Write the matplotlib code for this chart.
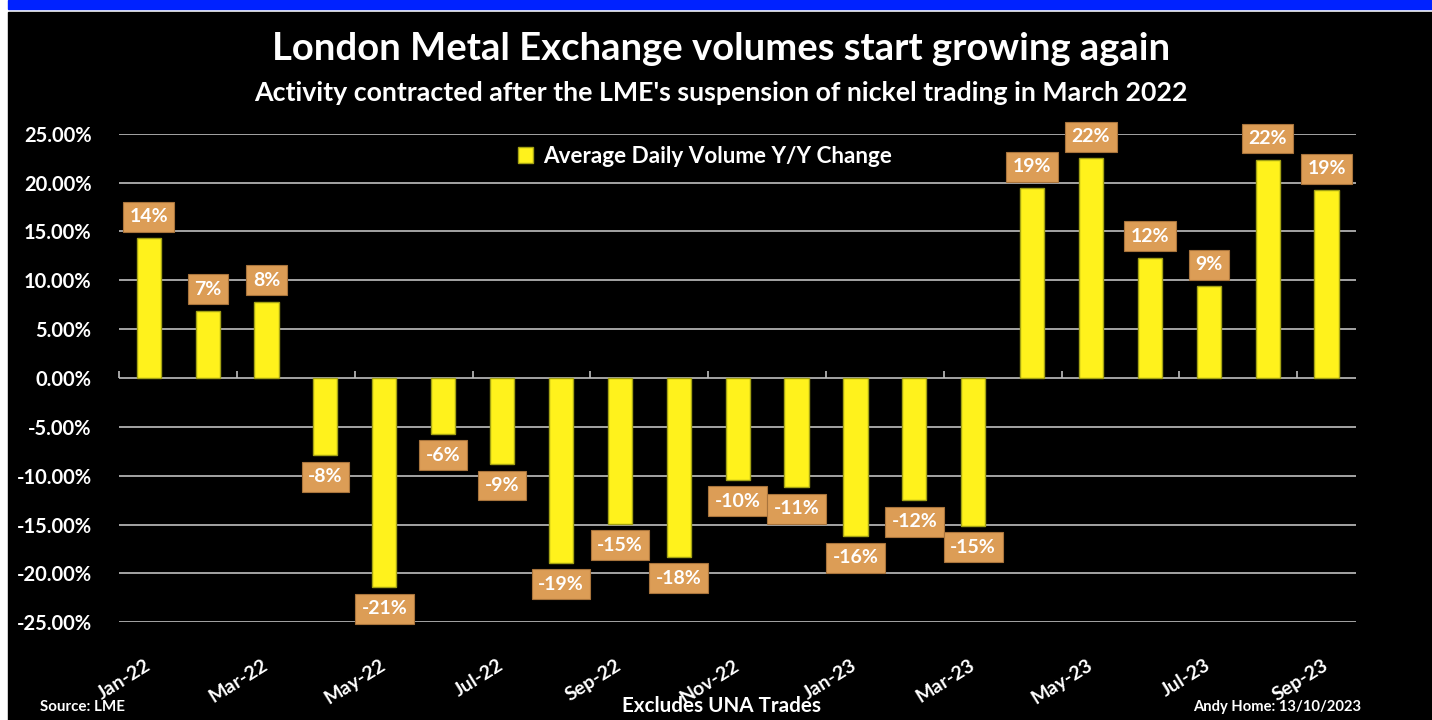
import matplotlib
matplotlib.use("Agg")
import matplotlib.pyplot as plt
from matplotlib.patches import Rectangle

# data (percent, Y/Y change in average daily volume)
months = ["Jan-22", "Feb-22", "Mar-22", "Apr-22", "May-22", "Jun-22", "Jul-22",
          "Aug-22", "Sep-22", "Oct-22", "Nov-22", "Dec-22", "Jan-23", "Feb-23",
          "Mar-23", "Apr-23", "May-23", "Jun-23", "Jul-23", "Aug-23", "Sep-23"]
adv_change = [14.3, 6.9, 7.8, -7.9, -21.4, -5.7, -8.8,
              -18.9, -14.9, -18.3, -10.4, -11.2, -16.2, -12.5,
              -15.1, 19.4, 22.5, 12.3, 9.4, 22.3, 19.2]
yticks = [25, 20, 15, 10, 5, 0, -5, -10, -15, -20, -25]

FONT = ["Lato", "DejaVu Sans"]
plt.rcParams["font.family"] = FONT
plt.rcParams["font.weight"] = "bold"

BAR = "#FFF21C"
BAR_EDGE = "#A3A114"
LABEL_BG = "#DC9D56"
LABEL_EDGE = "#A8743C"
GRID = "#BFBFBF"

fig = plt.figure(figsize=(14.32, 7.2), dpi=100)
fig.patch.set_facecolor("white")
W, H = 1432, 720
# black card, blue band on top
fig.patches.append(Rectangle((8 / W, 0), 1 - 8 / W, 1 - 11.5 / H,
                             transform=fig.transFigure, color="black", zorder=-10))
fig.patches.append(Rectangle((8 / W, 1 - 8.5 / H), 1 - 8 / W, 8.5 / H,
                             transform=fig.transFigure, color="#0022FF", zorder=-10))

ax = fig.add_axes([119.3 / W, (H - 622.3) / H, (1356 - 119.3) / W, (622.3 - 133.7) / H])
ax.set_zorder(2)
ax.patch.set_alpha(0)

x = list(range(len(months)))
bars = ax.bar(x, adv_change, width=0.41, color=BAR, edgecolor=BAR_EDGE,
              linewidth=1.0, zorder=3, label="Average Daily Volume Y/Y Change")

ax.set_xlim(-0.5, len(months) - 0.5)
ax.set_ylim(-25, 25)
ax.set_yticks(yticks)
ax.set_yticklabels([f"{v:.2f}%" for v in yticks])
ax.yaxis.grid(True, color=GRID, linewidth=1.2, zorder=0)
ax.set_axisbelow(True)
for s in ax.spines.values():
    s.set_visible(False)
ax.tick_params(axis="y", length=0, pad=20, labelsize=14.5, labelcolor="white")

# month labels every other category at the bottom
ax.set_xticks(x[::2])
ax.set_xticklabels(months[::2], rotation=32, ha="right", va="center",
                   rotation_mode="anchor")
ax.tick_params(axis="x", length=0, pad=30, labelsize=14, labelcolor="white")

# zero line with tick marks between every two categories
sec = ax.secondary_xaxis(0.5)
sec.spines["bottom"].set_color(GRID)
sec.spines["bottom"].set_linewidth(1.2)
sec.set_xticks([i - 0.5 for i in range(0, len(months) + 1, 2)])
sec.set_xticklabels([])
sec.tick_params(axis="x", length=5, width=1.2, color=GRID, direction="out")

# data labels
for xi, v in zip(x, adv_change):
    off = 15.5 if v >= 0 else -15.5
    ax.annotate(f"{v:.0f}%", (xi, v), xytext=(0, off), textcoords="offset points",
                ha="center", va="center", color="white", fontsize=14,
                fontweight="bold", zorder=5,
                bbox=dict(boxstyle="square,pad=0.33", facecolor=LABEL_BG,
                          edgecolor=LABEL_EDGE, linewidth=0.8))

leg = ax.legend(loc="center", bbox_to_anchor=(0.4736, 0.954), frameon=False,
                fontsize=16.2, handlelength=0.7, handleheight=0.7,
                handletextpad=0.45, borderpad=0.2)
for t in leg.get_texts():
    t.set_color("white")

fig.text(0.5035, 1 - 49 / H, "London Metal Exchange volumes start growing again",
         ha="center", va="center", color="white", fontsize=27.5, fontweight="bold")
fig.text(0.5035, 1 - 93 / H,
         "Activity contracted after the LME's suspension of nickel trading in March 2022",
         ha="center", va="center", color="white", fontsize=19.3, fontweight="bold")

fig.text(40 / W, 1 - 707 / H, "Source: LME", ha="left", va="center",
         color="white", fontsize=10.9, fontweight="bold")
fig.text(722 / W, 1 - 706 / H, "Excludes UNA Trades", ha="center", va="center",
         color="white", fontsize=14.9, fontweight="bold")
fig.text(1361 / W, 1 - 707 / H, "Andy Home: 13/10/2023", ha="right", va="center",
         color="white", fontsize=10.6, fontweight="bold")

fig.savefig("out.png", dpi=100, facecolor=fig.get_facecolor())
